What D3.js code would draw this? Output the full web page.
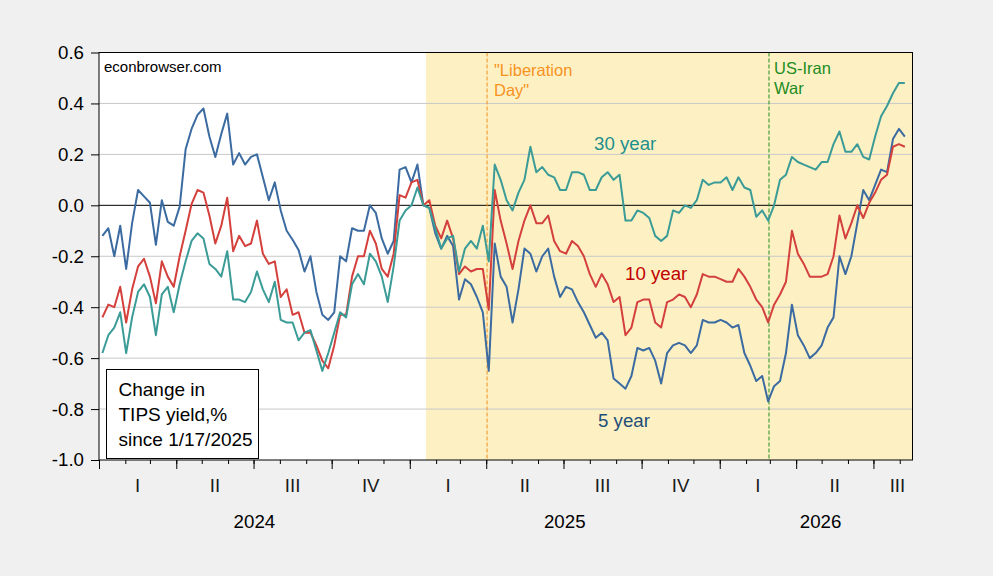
<!DOCTYPE html>
<html>
<head>
<meta charset="utf-8">
<script src="https://cdn.jsdelivr.net/npm/d3@7"></script>
<style>
  body { margin: 0; background: #f0f0f0; }
  svg { display: block; font-family: "Liberation Sans", Arial, sans-serif; }
</style>
</head>
<body>
<svg id="chart" width="993" height="576"></svg>
<script>
// weekly (Friday) observations, change in TIPS yield since 1/17/2025, pct points
var weeks = d3.timeFriday.range(new Date(2024, 0, 5), new Date(2026, 7, 8));

var tips5 = [
  -0.12, -0.09, -0.20, -0.08, -0.25, -0.07, 0.06, 0.035, 0.01, -0.155,
  0.02, -0.065, -0.08, -0.005, 0.22, 0.30, 0.355, 0.38, 0.27, 0.19,
  0.28, 0.36, 0.16, 0.205, 0.16, 0.19, 0.20, 0.11, 0.02, 0.09,
  -0.02, -0.10, -0.135, -0.175, -0.26, -0.20, -0.34, -0.43, -0.45, -0.42,
  -0.20, -0.22, -0.09, -0.10, -0.10, 0.00, -0.03, -0.13, -0.19, -0.14,
  0.14, 0.15, 0.09, 0.16, 0.00, -0.01, -0.11, -0.17, -0.12, -0.16,
  -0.37, -0.29, -0.31, -0.36, -0.42, -0.65, -0.15, -0.28, -0.32, -0.46,
  -0.33, -0.17, -0.19, -0.26, -0.20, -0.17, -0.28, -0.36, -0.32, -0.33,
  -0.38, -0.42, -0.47, -0.52, -0.50, -0.53, -0.68, -0.70, -0.72, -0.67,
  -0.56, -0.57, -0.56, -0.61, -0.70, -0.58, -0.55, -0.54, -0.55, -0.58,
  -0.55, -0.45, -0.46, -0.46, -0.45, -0.46, -0.48, -0.47, -0.58, -0.63,
  -0.69, -0.67, -0.77, -0.71, -0.69, -0.58, -0.39, -0.51, -0.55, -0.60,
  -0.58, -0.55, -0.48, -0.44, -0.20, -0.27, -0.20, -0.07, 0.06, 0.02,
  0.08, 0.14, 0.13, 0.26, 0.30, 0.27
];

var tips10 = [
  -0.44, -0.39, -0.40, -0.32, -0.46, -0.33, -0.24, -0.21, -0.28, -0.385,
  -0.22, -0.28, -0.32, -0.20, -0.10, 0.005, 0.06, 0.05, -0.04, -0.15,
  -0.08, 0.03, -0.18, -0.12, -0.16, -0.15, -0.06, -0.19, -0.23, -0.22,
  -0.36, -0.33, -0.43, -0.42, -0.50, -0.50, -0.55, -0.61, -0.64, -0.55,
  -0.43, -0.43, -0.28, -0.20, -0.20, -0.10, -0.15, -0.25, -0.28, -0.19,
  0.04, 0.03, 0.09, 0.10, 0.00, 0.02, -0.08, -0.13, -0.06, -0.13,
  -0.27, -0.24, -0.26, -0.25, -0.25, -0.41, 0.06, -0.06, -0.15, -0.25,
  -0.14, -0.06, 0.00, -0.07, -0.07, -0.04, -0.14, -0.18, -0.19, -0.14,
  -0.16, -0.20, -0.27, -0.32, -0.27, -0.31, -0.38, -0.36, -0.51, -0.48,
  -0.38, -0.37, -0.37, -0.46, -0.48, -0.38, -0.37, -0.35, -0.36, -0.40,
  -0.35, -0.27, -0.28, -0.28, -0.29, -0.30, -0.30, -0.25, -0.28, -0.32,
  -0.37, -0.40, -0.46, -0.39, -0.35, -0.30, -0.10, -0.19, -0.23, -0.28,
  -0.28, -0.28, -0.27, -0.20, -0.04, -0.13, -0.07, 0.00, -0.05, 0.01,
  0.05, 0.10, 0.12, 0.23, 0.24, 0.23
];

var tips30 = [
  -0.58, -0.51, -0.48, -0.42, -0.58, -0.44, -0.34, -0.31, -0.36, -0.51,
  -0.35, -0.32, -0.42, -0.31, -0.22, -0.14, -0.11, -0.13, -0.23, -0.25,
  -0.28, -0.18, -0.37, -0.37, -0.38, -0.34, -0.26, -0.33, -0.38, -0.30,
  -0.45, -0.46, -0.46, -0.53, -0.50, -0.49, -0.57, -0.65, -0.58, -0.50,
  -0.42, -0.44, -0.31, -0.27, -0.31, -0.19, -0.22, -0.28, -0.38, -0.24,
  -0.06, -0.02, 0.00, 0.07, 0.00, -0.01, -0.09, -0.17, -0.13, -0.12,
  -0.26, -0.17, -0.14, -0.17, -0.08, -0.22, 0.16, 0.10, 0.02, -0.02,
  0.05, 0.10, 0.23, 0.13, 0.15, 0.12, 0.11, 0.06, 0.06, 0.13,
  0.13, 0.12, 0.06, 0.06, 0.11, 0.13, 0.10, 0.12, -0.06, -0.06,
  -0.02, -0.03, -0.05, -0.12, -0.14, -0.12, -0.02, -0.03, 0.00, -0.01,
  0.02, 0.10, 0.08, 0.09, 0.09, 0.11, 0.06, 0.11, 0.07, 0.06,
  -0.045, -0.02, -0.06, 0.00, 0.10, 0.12, 0.19, 0.17, 0.16, 0.15,
  0.14, 0.17, 0.17, 0.24, 0.29, 0.21, 0.21, 0.24, 0.19, 0.18,
  0.27, 0.35, 0.39, 0.44, 0.48, 0.48
];

var yTicks = [-1.0, -0.8, -0.6, -0.4, -0.2, 0.0, 0.2, 0.4, 0.6];
var quarterNames = ["I", "II", "III", "IV"];
var boxLines = ["Change in", "TIPS yield,%", "since 1/17/2025"];

var inauguration = new Date(2025, 0, 20);
var liberationDay = new Date(2025, 3, 2);
var iranWar = new Date(2026, 1, 28);

var plotL = 99, plotR = 912.5, plotT = 52.5, plotB = 460;
var svg = d3.select("#chart");

var x = d3.scaleTime()
  .domain([new Date(2024, 0, 1), new Date(2026, 7, 16)])
  .range([plotL, plotR]);
var y = d3.scaleLinear().domain([-1, 0.6]).range([plotB, plotT]);

svg.append("defs").append("clipPath").attr("id", "plot")
  .append("rect")
  .attr("x", plotL).attr("y", plotT)
  .attr("width", plotR - plotL).attr("height", plotB - plotT);

// plot background and shading
svg.append("rect")
  .attr("x", plotL).attr("y", plotT)
  .attr("width", plotR - plotL).attr("height", plotB - plotT)
  .style("fill", "white");

svg.append("rect")
  .attr("x", x(inauguration)).attr("y", plotT)
  .attr("width", plotR - x(inauguration)).attr("height", plotB - plotT)
  .style("fill", "#fdf1c4");

// grid
svg.append("g")
  .selectAll("line")
  .data(yTicks.filter(function(d) { return d !== 0 && d > -1 && d < 0.6; }))
  .join("line")
  .attr("x1", plotL).attr("x2", plotR)
  .attr("y1", function(d) { return y(d); })
  .attr("y2", function(d) { return y(d); })
  .style("stroke", "#c8c8c8").style("stroke-width", 1);

svg.append("line")
  .attr("x1", plotL).attr("x2", plotR)
  .attr("y1", y(0)).attr("y2", y(0))
  .style("stroke", "black").style("stroke-width", 1);

// event lines
function eventLine(date, color) {
  svg.append("line")
    .attr("x1", x(date)).attr("x2", x(date))
    .attr("y1", plotT).attr("y2", plotB)
    .style("stroke", color)
    .style("stroke-width", 1)
    .style("stroke-dasharray", "4,2");
}
eventLine(liberationDay, "#f0901e");
eventLine(iranWar, "#1e8c1e");

// series
var line = d3.line()
  .defined(function(d) { return d !== null; })
  .x(function(d, i) { return x(weeks[i]); })
  .y(function(d) { return y(d); });

var series = [
  { values: tips5, color: "#3b6ba0" },
  { values: tips10, color: "#d4403c" },
  { values: tips30, color: "#3b9b96" }
];

svg.append("g")
  .attr("clip-path", "url(#plot)")
  .selectAll("path")
  .data(series)
  .join("path")
  .attr("d", function(s) { return line(s.values.slice(0, weeks.length)); })
  .style("fill", "none")
  .style("stroke", function(s) { return s.color; })
  .style("stroke-width", 2)
  .style("stroke-linejoin", "round");

// frame
svg.append("rect")
  .attr("x", plotL).attr("y", plotT)
  .attr("width", plotR - plotL).attr("height", plotB - plotT)
  .style("fill", "none").style("stroke", "black").style("stroke-width", 1);

// y axis
var yAxis = svg.append("g")
  .attr("transform", "translate(" + plotL + ",0)")
  .call(d3.axisLeft(y)
    .tickValues(yTicks)
    .tickSize(8)
    .tickPadding(7)
    .tickFormat(function(d) { return d.toFixed(1); }));
yAxis.select(".domain").remove();
yAxis.selectAll("text")
  .style("font-size", "18.7px")
  .style("font-family", "'Liberation Sans', Arial, sans-serif")
  .style("fill", "black");

// x axis: month ticks and quarter ticks
var xMinor = svg.append("g")
  .attr("transform", "translate(0," + plotB + ")")
  .call(d3.axisBottom(x).ticks(d3.timeMonth.every(1)).tickSize(4).tickFormat(""));
xMinor.select(".domain").remove();

var xMajor = svg.append("g")
  .attr("transform", "translate(0," + plotB + ")")
  .call(d3.axisBottom(x).ticks(d3.timeMonth.every(3)).tickSize(9).tickFormat(""));
xMajor.select(".domain").remove();

var domainEnd = x.domain()[1];
var quarters = d3.timeMonth.every(3).range(x.domain()[0], domainEnd);

function spanMid(a, b) {
  var clipped = b > domainEnd;
  var mid = (x(a) + x(clipped ? domainEnd : b)) / 2;
  return clipped ? mid + 4.5 : mid;
}

svg.append("g")
  .selectAll("text")
  .data(quarters)
  .join("text")
  .attr("x", function(q) { return spanMid(q, d3.timeMonth.offset(q, 3)); })
  .attr("y", 492)
  .style("text-anchor", "middle")
  .style("font-size", "18.7px")
  .style("fill", "#1a1a1a")
  .text(function(q) { return quarterNames[Math.floor(q.getMonth() / 3)]; });

var years = d3.timeYear.range(x.domain()[0], domainEnd);
svg.append("g")
  .selectAll("text")
  .data(years)
  .join("text")
  .attr("x", function(yr) { return spanMid(yr, d3.timeYear.offset(yr, 1)); })
  .attr("y", 528)
  .style("text-anchor", "middle")
  .style("font-size", "18.7px")
  .style("fill", "black")
  .text(function(yr) { return yr.getFullYear(); });

// annotations
function label(lines, px, py, size, color, lineHeight) {
  var t = svg.append("text")
    .attr("x", px).attr("y", py)
    .style("font-size", size)
    .style("fill", color);
  lines.forEach(function(s, i) {
    t.append("tspan").attr("x", px).attr("y", py + i * lineHeight).text(s);
  });
}

label(["econbrowser.com"], 104, 71.5, "15px", "black", 0);
label(["\"Liberation", "Day\""], 494, 75.5, "16.5px", "#f7921e", 20);
label(["US-Iran", "War"], 774, 73.5, "16.5px", "#1e8c1e", 20.5);
label(["30 year"], 594, 149.5, "18.7px", "#1f8f8c", 0);
label(["10 year"], 625, 280, "18.7px", "#c00000", 0);
label(["5 year"], 598, 427, "18.7px", "#1f4e79", 0);

// note box
svg.append("rect")
  .attr("x", 106.5).attr("y", 369.5)
  .attr("width", 152).attr("height", 89)
  .style("fill", "white").style("stroke", "black").style("stroke-width", 1);
label(boxLines, 118.5, 396, "19px", "black", 24.8);
</script>
</body>
</html>
